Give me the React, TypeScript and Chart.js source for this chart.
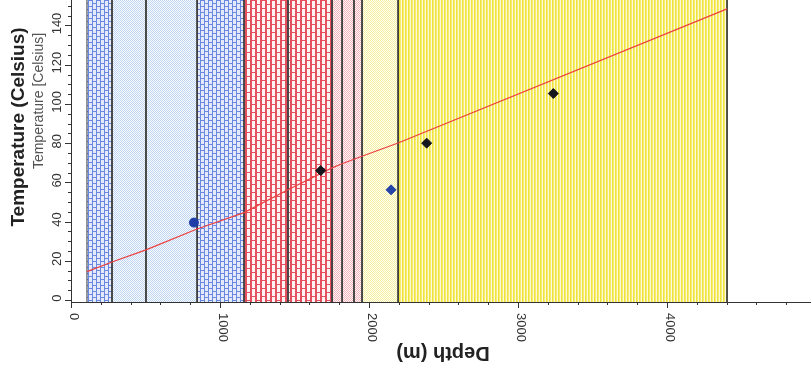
import React, { useEffect, useRef } from 'react';
import { Chart, registerables } from 'chart.js';

Chart.register(...registerables);

// ---- data ----
const layerTop = [107, 275, 503, 846, 1161, 1456, 1752, 1819, 1899, 1953, 2195];
const layerBottom = [275, 503, 846, 1161, 1456, 1752, 1819, 1899, 1953, 2195, 4403];
const layerLithology = [
  'limestone', 'sandstone', 'sandstone', 'limestone',
  'redLimestone', 'redLimestone', 'redSilt', 'redSilt', 'redSilt',
  'sand', 'clay',
];

const profileDepth = [107, 275, 503, 846, 1161, 1456, 1752, 1819, 1899, 1953, 2195, 4403];
const profileTemp = [14.5, 19.4, 25.6, 36.2, 44.6, 56.2, 67.4, 69.5, 71.8, 73.3, 80.1, 148.5];

const bhtCircleDepth = [825];
const bhtCircleTemp = [39.5];
const bhtBlueDepth = [2148];
const bhtBlueTemp = [56.2];
const bhtBlackDepth = [1676, 2387, 3237];
const bhtBlackTemp = [66, 80, 105.3];

const xTickValues = [0, 1000, 2000, 3000, 4000, 5000];
const xTickLabels = ['0', '1000', '2000', '3000', '4000', '5000'];
const yTickValues = [0, 20, 40, 60, 80, 100, 120, 140];
const yTickLabels = ['0', '20', '40', '60', '80', '100', '120', '140'];

const xTitle = 'Depth (m)';
const yTitle = 'Temperature (Celsius)';
const ySubTitle = 'Temperature [Celsius]';

const X_MIN = 0;
const X_MAX = 5000;
const Y_MIN = -1;
const Y_MAX = 153;

const FONT = '"Liberation Sans", Arial, sans-serif';

function makeTile(w: number, h: number, draw: (c: CanvasRenderingContext2D) => void) {
  const cv = document.createElement('canvas');
  cv.width = w;
  cv.height = h;
  const c = cv.getContext('2d')!;
  draw(c);
  const ctx = document.createElement('canvas').getContext('2d')!;
  return ctx.createPattern(cv, 'repeat')!;
}

function brick(line: string, bg: string, bw: number, bh: number, lw: number) {
  return makeTile(bw * 2, bh, (c) => {
    c.fillStyle = bg;
    c.fillRect(0, 0, bw * 2, bh);
    c.fillStyle = line;
    c.fillRect(0, 0, lw, bh);
    c.fillRect(bw, 0, lw, bh);
    c.fillRect(0, 0, bw, 1);
    c.fillRect(bw, Math.floor(bh / 2), bw, 1);
  });
}

function dots(dot: string, bg: string) {
  return makeTile(2, 2, (c) => {
    c.fillStyle = bg;
    c.fillRect(0, 0, 2, 2);
    c.fillStyle = dot;
    c.fillRect(0, 0, 1, 1);
    c.fillRect(1, 1, 1, 1);
  });
}

function stripes() {
  return makeTile(3, 1, (c) => {
    c.fillStyle = '#efe33e';
    c.fillRect(0, 0, 1, 1);
    c.fillStyle = '#f5ed72';
    c.fillRect(1, 0, 1, 1);
    c.fillStyle = '#fdf9da';
    c.fillRect(2, 0, 1, 1);
  });
}

const decorPlugin = {
  id: 'decor',
  afterDraw(chart: any) {
    const { ctx, chartArea, scales } = chart;
    const xs = scales.x;
    const ys = scales.y;
    ctx.save();
    ctx.strokeStyle = '#333';
    ctx.lineWidth = 1;
    // x ticks
    for (let v = X_MIN; v <= X_MAX; v += 200) {
      const px = Math.round(xs.getPixelForValue(v)) + 0.5;
      const major = v % 1000 === 0;
      ctx.beginPath();
      ctx.moveTo(px, chartArea.bottom);
      ctx.lineTo(px, chartArea.bottom + (major ? 6 : 3));
      ctx.stroke();
    }
    // y ticks
    for (let v = 0; v <= 150; v += 5) {
      const py = Math.round(ys.getPixelForValue(v)) + 0.5;
      const major = v % 20 === 0;
      ctx.beginPath();
      ctx.moveTo(chartArea.left, py);
      ctx.lineTo(chartArea.left - (major ? 6 : 3), py);
      ctx.stroke();
    }
    // x tick labels (rotated clockwise)
    ctx.fillStyle = '#333';
    ctx.font = `13px ${FONT}`;
    xTickValues.forEach((v, i) => {
      const px = xs.getPixelForValue(v);
      ctx.save();
      ctx.translate(px + 3, chartArea.bottom + 11);
      ctx.rotate(Math.PI / 2);
      ctx.textAlign = 'left';
      ctx.textBaseline = 'middle';
      ctx.fillText(xTickLabels[i], 0, 0);
      ctx.restore();
    });
    // y tick labels (rotated counter-clockwise)
    yTickValues.forEach((v, i) => {
      const py = ys.getPixelForValue(v);
      ctx.save();
      ctx.translate(chartArea.left - 14, py - 2);
      ctx.rotate(-Math.PI / 2);
      ctx.textAlign = 'center';
      ctx.textBaseline = 'middle';
      ctx.fillText(yTickLabels[i], 0, 0);
      ctx.restore();
    });
    // y titles
    ctx.save();
    ctx.fillStyle = '#222';
    ctx.font = `bold 19px ${FONT}`;
    ctx.translate(19, 127);
    ctx.rotate(-Math.PI / 2);
    ctx.textAlign = 'center';
    ctx.textBaseline = 'middle';
    ctx.fillText(yTitle, 0, 0);
    ctx.restore();

    ctx.save();
    ctx.fillStyle = '#555';
    ctx.font = `14px ${FONT}`;
    ctx.translate(39, 101);
    ctx.rotate(-Math.PI / 2);
    ctx.textAlign = 'center';
    ctx.textBaseline = 'middle';
    ctx.fillText(ySubTitle, 0, 0);
    ctx.restore();

    // x title, upside down
    ctx.save();
    ctx.fillStyle = '#222';
    ctx.font = `bold 20px ${FONT}`;
    ctx.translate(443, 353);
    ctx.rotate(Math.PI);
    ctx.textAlign = 'center';
    ctx.textBaseline = 'middle';
    ctx.fillText(xTitle, 0, 0);
    ctx.restore();

    ctx.restore();
  },
};

export default function App() {
  const ref = useRef<HTMLCanvasElement | null>(null);

  useEffect(() => {
    document.body.style.margin = '0';
    document.body.style.overflow = 'hidden';
    if (!ref.current) return;

    const patterns: Record<string, any> = {
      limestone: brick('#6a88e0', '#e4eafc', 4, 6, 1),
      sandstone: dots('#bdd5f2', '#fcfdff'),
      redLimestone: brick('#e4505e', '#fff4f4', 5, 8, 2),
      redSilt: dots('#f3b3bc', '#fffafa'),
      sand: dots('#f6f0a2', '#fffef2'),
      clay: stripes(),
    };

    const bandSets = layerTop.map((top, i) => ({
      type: 'line' as const,
      label: layerLithology[i],
      data: [
        { x: top, y: Y_MIN },
        { x: top, y: Y_MAX + 30 },
        { x: layerBottom[i], y: Y_MAX + 30 },
        { x: layerBottom[i], y: Y_MIN },
      ],
      backgroundColor: patterns[layerLithology[i]],
      borderColor: '#3c3c3c',
      borderWidth: 1,
      pointRadius: 0,
      tension: 0,
      fill: 'start',
      order: 10,
    }));

    const chart = new Chart(ref.current, {
      type: 'line',
      data: {
        datasets: [
          {
            type: 'scatter',
            label: 'BHT circle',
            data: bhtCircleDepth.map((d, i) => ({ x: d, y: bhtCircleTemp[i] })),
            pointStyle: 'circle',
            pointRadius: 4.5,
            backgroundColor: '#1f3ea6',
            borderColor: '#1f3ea6',
            order: 0,
          },
          {
            type: 'scatter',
            label: 'BHT blue',
            data: bhtBlueDepth.map((d, i) => ({ x: d, y: bhtBlueTemp[i] })),
            pointStyle: 'rectRot',
            pointRadius: 5,
            backgroundColor: '#2544a8',
            borderColor: '#2544a8',
            order: 0,
          },
          {
            type: 'scatter',
            label: 'BHT black',
            data: bhtBlackDepth.map((d, i) => ({ x: d, y: bhtBlackTemp[i] })),
            pointStyle: 'rectRot',
            pointRadius: 5,
            backgroundColor: '#16161e',
            borderColor: '#16161e',
            order: 0,
          },
          {
            type: 'line',
            label: 'Model',
            data: profileDepth.map((d, i) => ({ x: d, y: profileTemp[i] })),
            borderColor: '#ec3f3f',
            borderWidth: 1.2,
            pointRadius: 0,
            tension: 0,
            fill: false,
            order: 1,
          },
          ...bandSets,
        ] as any,
      },
      options: {
        animation: false,
        responsive: false,
        devicePixelRatio: 1,
        layout: { autoPadding: false, padding: { left: 0, right: 14, top: 0, bottom: 0 } },
        plugins: {
          legend: { display: false },
          tooltip: { enabled: false },
          title: { display: false },
        },
        scales: {
          x: {
            type: 'linear',
            min: X_MIN,
            max: X_MAX,
            grid: { display: false },
            ticks: { display: false },
            border: { display: true, color: '#333', width: 1 },
            afterFit: (s: any) => {
              s.height = 67;
            },
          },
          y: {
            type: 'linear',
            min: Y_MIN,
            max: Y_MAX,
            grid: { display: false },
            ticks: { display: false },
            border: { display: true, color: '#333', width: 1 },
            afterFit: (s: any) => {
              s.width = 71;
            },
          },
        },
      } as any,
      plugins: [decorPlugin],
    });

    return () => {
      chart.destroy();
    };
  }, []);

  return (
    <div style={{ width: 811, height: 369, overflow: 'hidden', position: 'relative', background: '#fff' }}>
      <canvas ref={ref} width={830} height={369} style={{ display: 'block' }} />
    </div>
  );
}
